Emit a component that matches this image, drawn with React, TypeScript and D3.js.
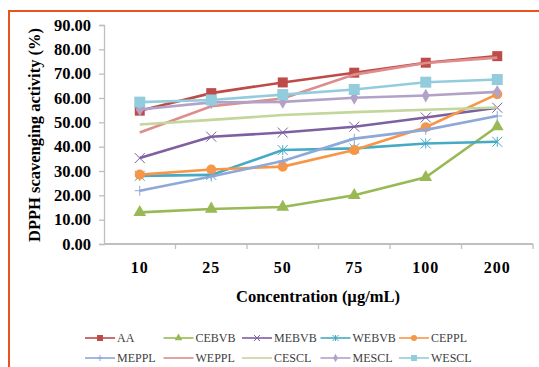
import React, { useEffect, useRef } from 'react';
import * as d3 from 'd3';

// DPPH scavenging activity vs concentration

const concentrations = ['10', '25', '50', '75', '100', '200'];
const seriesNames = ['AA', 'CEBVB', 'MEBVB', 'WEBVB', 'CEPPL', 'MEPPL', 'WEPPL', 'CESCL', 'MESCL', 'WESCL'];

const aa = [54.8, 62.0, 66.4, 70.4, 74.5, 77.2];
const cebvb = [13.0, 14.4, 15.2, 20.0, 27.4, 48.3];
const mebvb = [35.3, 44.1, 45.8, 48.2, 52.0, 56.0];
const webvb = [28.0, 28.4, 38.6, 39.3, 41.3, 42.0];
const ceppl = [28.5, 30.6, 31.8, 38.6, 48.0, 61.6];
const meppl = [21.9, 27.7, 34.1, 43.3, 46.9, 52.6];
const weppl = [45.8, 56.6, 59.8, 69.6, 74.4, 76.6];
const cescl = [49.1, 51.0, 53.0, 54.2, 55.2, 56.1];
const mescl = [55.3, 58.2, 58.4, 60.1, 61.0, 62.5];
const wescl = [58.3, 59.2, 61.4, 63.5, 66.5, 67.6];

const seriesValues = [aa, cebvb, mebvb, webvb, ceppl, meppl, weppl, cescl, mescl, wescl];
const colors = ['#BE4B48', '#98B954', '#7D60A0', '#46AAC5', '#F79646', '#8EA8D8', '#DE8C8C', '#C3D69B', '#B3A2C7', '#93CDDD'];
const markers = ['square', 'triangle', 'x', 'asterisk', 'circle', 'plus', 'none', 'none', 'diamond', 'square'];
const yTicks = [0, 10, 20, 30, 40, 50, 60, 70, 80, 90];

const markerPath = (kind: string, s: number) => {
  const h = s / 2;
  if (kind === 'square') return d3.symbol(d3.symbolSquare, s * s)();
  if (kind === 'triangle') return d3.symbol(d3.symbolTriangle, s * s * 0.7)();
  if (kind === 'circle') return d3.symbol(d3.symbolCircle, s * s * 0.8)();
  if (kind === 'diamond') return d3.symbol(d3.symbolDiamond, s * s * 0.55)();
  if (kind === 'x') return `M${-h},${-h}L${h},${h}M${-h},${h}L${h},${-h}`;
  if (kind === 'plus') return `M${-h},0L${h},0M0,${-h}L0,${h}`;
  if (kind === 'asterisk') return `M${-h},${-h}L${h},${h}M${-h},${h}L${h},${-h}M0,${-h}L0,${h}`;
  return '';
};
const isStroked = (kind: string) => kind === 'x' || kind === 'plus' || kind === 'asterisk';

const font = 'Liberation Serif, serif';

const App = () => {
  const svgRef = useRef<SVGSVGElement>(null);

  useEffect(() => {
    const svg = d3.select(svgRef.current);
    svg.selectAll('*').remove();

    const x = d3.scaleBand().domain(concentrations).range([104, 533]);
    const y = d3.scaleLinear().domain([0, 90]).range([244, 25]);
    const cx = (c: string) => (x(c) as number) + x.bandwidth() / 2;

    // outer orange frame
    svg.append('rect')
      .attr('x', 9).attr('y', 11).attr('width', 560).attr('height', 400)
      .attr('fill', 'none').attr('stroke', '#E8531F').attr('stroke-width', 2);

    // y axis
    const yAxis = svg.append('g')
      .attr('transform', 'translate(104,0)')
      .call(d3.axisLeft(y).tickValues(yTicks).tickFormat(d3.format('.2f')).tickSize(5).tickPadding(8));
    yAxis.selectAll('line, path').attr('stroke', '#BFBFBF').attr('stroke-width', 1.3);
    yAxis.selectAll('text')
      .style('font-family', font).style('font-size', '16.5px').style('font-weight', 'bold')
      .attr('fill', '#000');

    // x axis with ticks at category boundaries
    const xAxis = svg.append('g').attr('transform', 'translate(0,244)');
    xAxis.append('line').attr('x1', 104).attr('x2', 533).attr('stroke', '#BFBFBF').attr('stroke-width', 2);
    xAxis.selectAll('line.tk')
      .data(concentrations)
      .enter()
      .append('line')
      .attr('class', 'tk')
      .attr('x1', d => (x(d) as number) + x.bandwidth())
      .attr('x2', d => (x(d) as number) + x.bandwidth())
      .attr('y1', 0).attr('y2', 5)
      .attr('stroke', '#BFBFBF').attr('stroke-width', 1.3);
    xAxis.selectAll('text')
      .data(concentrations)
      .enter()
      .append('text')
      .attr('x', d => cx(d))
      .attr('y', 29)
      .attr('text-anchor', 'middle')
      .style('font-family', font).style('font-size', '16px').style('font-weight', 'bold')
      .style('letter-spacing', '1px')
      .text(d => d);

    // titles
    svg.append('text')
      .attr('x', 318).attr('y', 302)
      .attr('text-anchor', 'middle')
      .style('font-family', font).style('font-size', '16.5px').style('font-weight', 'bold')
      .text('Concentration (µg/mL)');
    svg.append('text')
      .attr('transform', 'translate(40,135) rotate(-90)')
      .attr('text-anchor', 'middle')
      .style('font-family', font).style('font-size', '16.5px').style('font-weight', 'bold')
      .text('DPPH scavenging activity (%)');

    // series
    const line = d3.line<number>()
      .x((_, i) => cx(concentrations[i]))
      .y(d => y(d));

    seriesValues.forEach((vals, si) => {
      const g = svg.append('g');
      g.append('path')
        .datum(vals)
        .attr('d', line)
        .attr('fill', 'none')
        .attr('stroke', colors[si])
        .attr('stroke-width', 2.6);
      const kind = markers[si];
      if (kind === 'none') return;
      const size = si === 9 ? 11 : 10;
      g.selectAll('path.m')
        .data(vals)
        .enter()
        .append('path')
        .attr('class', 'm')
        .attr('transform', (d, i) => `translate(${cx(concentrations[i])},${y(d)})`)
        .attr('d', markerPath(kind, size))
        .attr('fill', isStroked(kind) ? 'none' : colors[si])
        .attr('stroke', colors[si])
        .attr('stroke-width', isStroked(kind) ? 1 : 0);
    });

    // legend
    const legend = svg.append('g');
    seriesNames.forEach((name, i) => {
      const col = i % 5;
      const row = Math.floor(i / 5);
      const lx = 85 + col * 78.5;
      const ly = 338 + row * 20;
      const item = legend.append('g').attr('transform', `translate(${lx},${ly})`);
      item.append('line').attr('x1', 0).attr('x2', 30).attr('stroke', colors[i]).attr('stroke-width', 1.6);
      if (markers[i] !== 'none') {
        item.append('path')
          .attr('transform', 'translate(15,0)')
          .attr('d', markerPath(markers[i], 6))
          .attr('fill', isStroked(markers[i]) ? 'none' : colors[i])
          .attr('stroke', colors[i])
          .attr('stroke-width', isStroked(markers[i]) ? 1 : 0);
      }
      item.append('text')
        .attr('x', 32).attr('y', 4)
        .style('font-family', font).style('font-size', '12px')
        .attr('fill', '#404040')
        .text(name);
    });
  }, []);

  return (
    <svg
      ref={svgRef}
      width="539"
      height="367"
      style={{ position: 'absolute', left: 0, top: 0, background: '#fff' }}
    />
  );
};

export default App;
